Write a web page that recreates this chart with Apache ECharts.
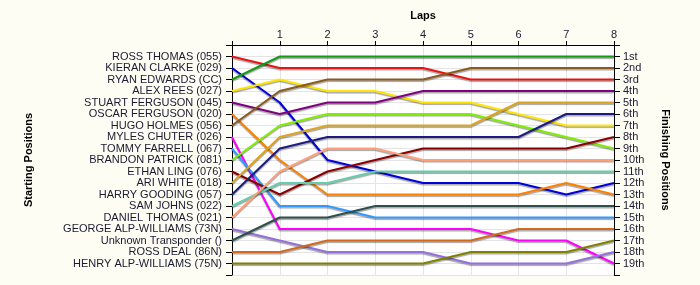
<!DOCTYPE html>
<html>
<head>
<meta charset="utf-8">
<script src="https://cdn.jsdelivr.net/npm/echarts@6/dist/echarts.min.js"></script>
<style>
  html, body { margin: 0; padding: 0; background: #fdfdf3; }
  #main { width: 700px; height: 285px; }
</style>
</head>
<body>
<div id="main"></div>
<script>
// 车手（发车顺序）
var drivers = [
  'ROSS THOMAS (055)', 'KIERAN CLARKE (029)', 'RYAN EDWARDS (CC)', 'ALEX REES (027)',
  'STUART FERGUSON (045)', 'OSCAR FERGUSON (020)', 'HUGO HOLMES (056)', 'MYLES CHUTER (026)',
  'TOMMY FARRELL (067)', 'BRANDON PATRICK (081)', 'ETHAN LING (076)', 'ARI WHITE (018)',
  'HARRY GOODING (057)', 'SAM JOHNS (022)', 'DANIEL THOMAS (021)', 'GEORGE ALP-WILLIAMS (73N)',
  'Unknown Transponder ()', 'ROSS DEAL (86N)', 'HENRY ALP-WILLIAMS (75N)'
];
var finishLabels = ['1st', '2nd', '3rd', '4th', '5th', '6th', '7th', '8th', '9th', '10th',
  '11th', '12th', '13th', '14th', '15th', '16th', '17th', '18th', '19th'];
var laps = [0, 1, 2, 3, 4, 5, 6, 7, 8];

// 每圈名次 (第0圈 = 发车位置)
var rossThomas      = [1, 2, 2, 2, 2, 3, 3, 3, 3];
var kieranClarke    = [2, 5, 10, 11, 12, 12, 12, 13, 12];
var ryanEdwards     = [3, 1, 1, 1, 1, 1, 1, 1, 1];
var alexRees        = [4, 3, 4, 4, 5, 5, 6, 7, 7];
var stuartFerguson  = [5, 6, 5, 5, 4, 4, 4, 4, 4];
var oscarFerguson   = [6, 10, 13, 13, 13, 13, 13, 12, 13];
var hugoHolmes      = [7, 4, 3, 3, 3, 2, 2, 2, 2];
var mylesChuter     = [8, 16, 16, 16, 16, 16, 17, 17, 19];
var tommyFarrell    = [9, 14, 14, 15, 15, 15, 15, 15, 15];
var brandonPatrick  = [10, 7, 6, 6, 6, 6, 7, 8, 9];
var ethanLing       = [11, 13, 11, 10, 9, 9, 9, 9, 8];
var ariWhite        = [12, 8, 7, 7, 7, 7, 5, 5, 5];
var harryGooding    = [13, 9, 8, 8, 8, 8, 8, 6, 6];
var samJohns        = [14, 12, 12, 11, 11, 11, 11, 11, 11];
var danielThomas    = [15, 11, 9, 9, 10, 10, 10, 10, 10];
var georgeAlp       = [16, 17, 18, 18, 18, 19, 19, 19, 18];
var unknownTrans    = [17, 15, 15, 14, 14, 14, 14, 14, 14];
var rossDeal        = [18, 18, 17, 17, 17, 17, 16, 16, 16];
var henryAlp        = [19, 19, 19, 19, 19, 18, 18, 18, 17];

var positions = [rossThomas, kieranClarke, ryanEdwards, alexRees, stuartFerguson, oscarFerguson,
  hugoHolmes, mylesChuter, tommyFarrell, brandonPatrick, ethanLing, ariWhite, harryGooding,
  samJohns, danielThomas, georgeAlp, unknownTrans, rossDeal, henryAlp];

var lineColors = ['#ee1111', '#0000dd', '#159a15', '#ffe600', '#800080', '#ff8000', '#8b5a1e',
  '#ff00ff', '#3399ff', '#7fee00', '#8b0000', '#daa520', '#1c1c80', '#66cdaa', '#ffa07a',
  '#9370db', '#2f4f4f', '#d2691e', '#808000'];

var labelFont = { color: '#1a1a30', fontSize: 11, fontFamily: 'Liberation Sans, Arial, sans-serif' };
var nameFont = { color: '#000', fontSize: 11, fontWeight: 'bold', fontFamily: 'Liberation Sans, Arial, sans-serif' };
var gridLine = { show: true, lineStyle: { color: '#e4e4e4', width: 1 } };

var myChart = echarts.init(document.getElementById('main'));

var series = positions.map(function (pos, i) {
  return {
    name: drivers[i],
    type: 'line',
    symbol: 'none',
    animation: false,
    data: laps.map(function (l, j) { return [l, pos[j]]; }),
    lineStyle: {
      color: lineColors[i],
      width: 2,
      shadowColor: 'rgba(0,0,0,0.35)',
      shadowBlur: 1,
      shadowOffsetY: 1.5
    }
  };
});

var option = {
  backgroundColor: '#fdfdf3',
  animation: false,
  grid: {
    left: 232, right: 86, top: 45, bottom: 10,
    show: true, backgroundColor: '#ffffff', borderWidth: 0
  },
  xAxis: {
    type: 'value',
    position: 'top',
    min: 0, max: 8, interval: 1,
    name: 'Laps',
    nameLocation: 'middle',
    nameGap: 24,
    nameTextStyle: nameFont,
    axisLine: { show: true, lineStyle: { color: '#000', width: 1 } },
    axisTick: { show: true, length: 4, lineStyle: { color: '#000' } },
    axisLabel: Object.assign({
      margin: 5,
      formatter: function (v) { return v === 0 ? '' : String(v); }
    }, labelFont),
    splitLine: gridLine
  },
  yAxis: [
    {
      type: 'value',
      position: 'left',
      inverse: true,
      min: 0, max: 20, interval: 1,
      name: 'Starting Positions',
      nameLocation: 'middle',
      nameRotate: 90,
      nameGap: 198,
      nameTextStyle: nameFont,
      axisLine: { show: true, onZero: false, lineStyle: { color: '#000', width: 1 } },
      axisTick: { show: true, length: 6, lineStyle: { color: '#000' } },
      axisLabel: Object.assign({
        margin: 10,
        formatter: function (v) { return drivers[v - 1] || ''; }
      }, labelFont),
      splitLine: gridLine
    },
    {
      type: 'value',
      position: 'right',
      inverse: true,
      min: 0, max: 20, interval: 1,
      name: 'Finishing Positions',
      nameLocation: 'middle',
      nameRotate: -90,
      nameGap: 46,
      nameTextStyle: nameFont,
      axisLine: { show: true, onZero: false, lineStyle: { color: '#000', width: 1 } },
      axisTick: { show: true, length: 6, lineStyle: { color: '#000' } },
      axisLabel: Object.assign({
        margin: 9,
        formatter: function (v) { return finishLabels[v - 1] || ''; }
      }, labelFont),
      splitLine: { show: false }
    }
  ],
  series: series
};

myChart.setOption(option);
</script>
</body>
</html>
